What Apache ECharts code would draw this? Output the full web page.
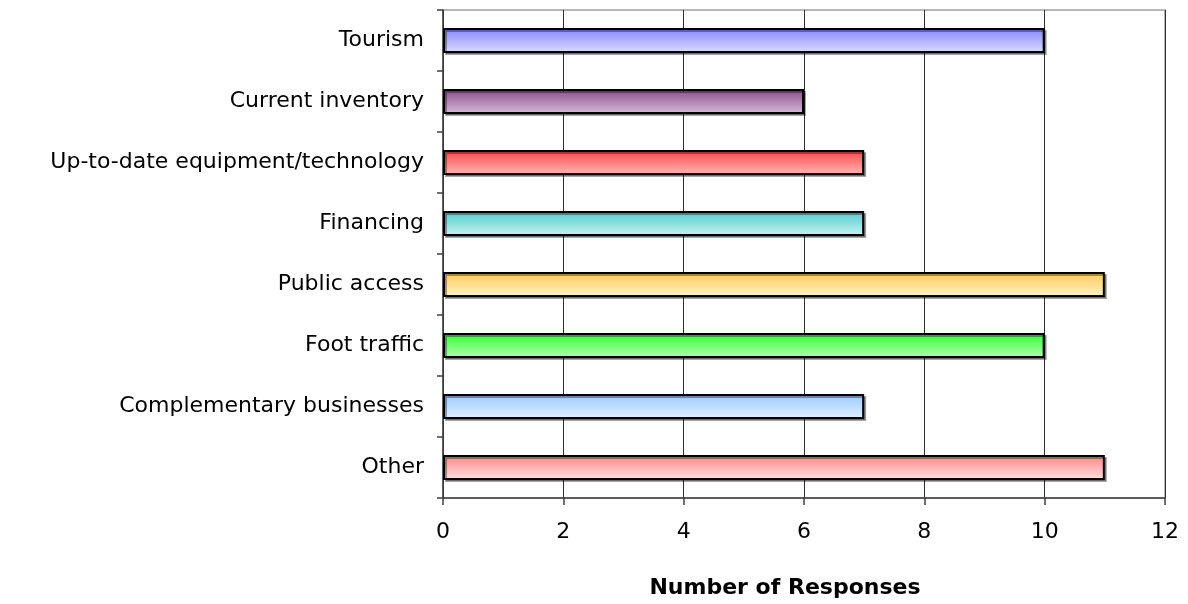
<!DOCTYPE html>
<html>
<head>
<meta charset="utf-8">
<style>
  html, body { margin: 0; padding: 0; background: #fff; }
  #chart { width: 1188px; height: 604px; }
</style>
<script src="https://cdn.jsdelivr.net/npm/echarts@6/dist/echarts.min.js"></script>
</head>
<body>
<div id="chart"></div>
<script>
// Survey factors, listed top to bottom
const categories = [
  'Tourism',
  'Current inventory',
  'Up-to-date equipment/technology',
  'Financing',
  'Public access',
  'Foot traffic',
  'Complementary businesses',
  'Other'
];
const responses = [10, 6, 7, 7, 11, 10, 7, 11];
const xTicks = [0, 2, 4, 6, 8, 10, 12];
const axisTitle = 'Number of Responses';

// Vertical gradient per bar: [top colour, bottom colour]
const barGradients = [
  ['#8585ff', '#dedeff'],
  ['#8a4c8a', '#d8bcd8'],
  ['#ff4545', '#ffb8b8'],
  ['#4ecccc', '#cbf2f2'],
  ['#ffcc55', '#fff2c8'],
  ['#33ff33', '#b0ffb0'],
  ['#99c8ff', '#e2f0ff'],
  ['#ff8585', '#ffe0e0']
];

const FONT = '"DejaVu Sans", sans-serif';

const chart = echarts.init(document.getElementById('chart'), null, { renderer: 'canvas' });

chart.setOption({
  animation: false,
  backgroundColor: '#ffffff',
  grid: {
    left: 443,
    right: 23,
    top: 10,
    bottom: 103,
    show: true,
    borderColor: '#a0a0a0',
    borderWidth: 1.5,
    backgroundColor: 'transparent'
  },
  xAxis: {
    type: 'value',
    min: 0,
    max: 12,
    interval: 2,
    name: axisTitle,
    nameLocation: 'middle',
    nameGap: 79,
    nameTextStyle: {
      fontFamily: FONT, fontSize: 22, fontWeight: 'bold', color: '#000',
      padding: [0, 38, 0, 0]
    },
    axisLine: { show: true, lineStyle: { color: '#404040', width: 1.5 } },
    axisTick: { show: true, length: 7, lineStyle: { color: '#404040', width: 1.5 } },
    axisLabel: {
      fontFamily: FONT, fontSize: 22, color: '#000', margin: 23,
      formatter: v => xTicks.includes(v) ? String(v) : ''
    },
    splitLine: { show: true, lineStyle: { color: '#2e2e2e', width: 1 } }
  },
  yAxis: {
    type: 'category',
    data: categories,
    inverse: true,
    axisLine: { show: true, lineStyle: { color: '#404040', width: 1.5 } },
    axisTick: { show: true, alignWithLabel: false, length: 6, lineStyle: { color: '#404040', width: 1.5 } },
    axisLabel: { fontFamily: FONT, fontSize: 22, color: '#000', margin: 19 },
    splitLine: { show: false }
  },
  series: [{
    type: 'bar',
    barWidth: 25,
    data: responses.map((v, i) => ({
      value: v,
      itemStyle: {
        color: new echarts.graphic.LinearGradient(0, 0, 0, 1, [
          { offset: 0, color: barGradients[i][0] },
          { offset: 1, color: barGradients[i][1] }
        ])
      }
    })),
    itemStyle: {
      borderColor: '#000',
      borderWidth: 2,
      shadowColor: 'rgba(0,0,0,0.35)',
      shadowBlur: 0,
      shadowOffsetX: 2,
      shadowOffsetY: 2
    }
  }]
});
</script>
</body>
</html>
